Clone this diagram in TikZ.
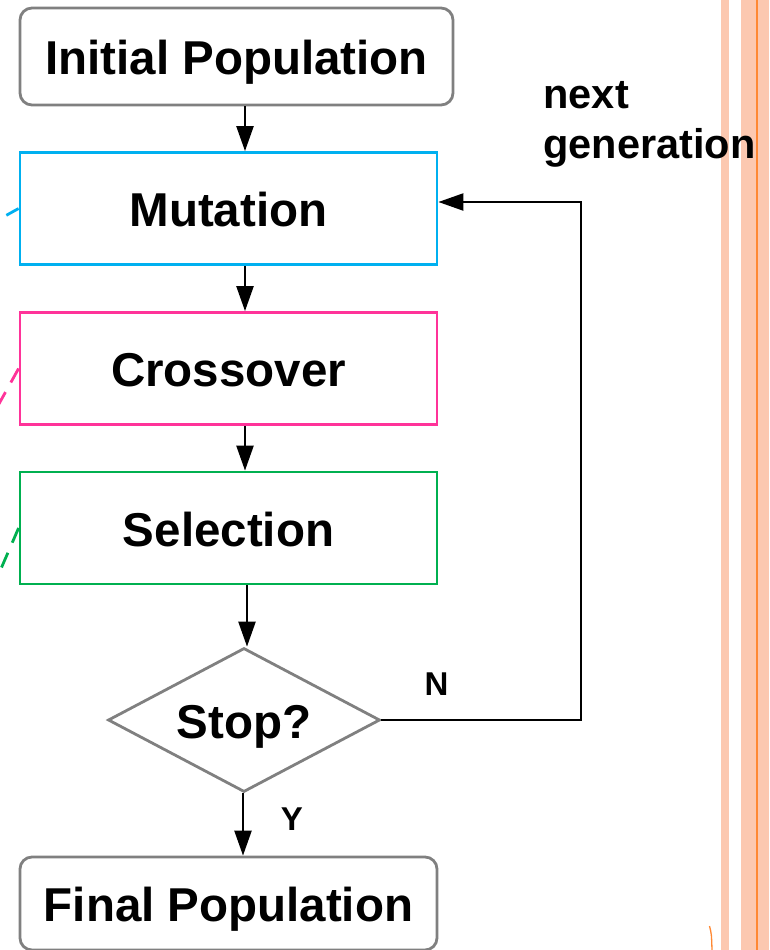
\documentclass[tikz,border=0pt]{standalone}
\usepackage{fontspec}
\setmainfont{Liberation Sans}
\usetikzlibrary{shapes.geometric,arrows.meta}
\definecolor{cblue}{HTML}{00B0F0}
\definecolor{cpink}{HTML}{FF3399}
\definecolor{cgreen}{HTML}{00B050}
\definecolor{cgray}{HTML}{808080}
\definecolor{csalmon}{RGB}{252,200,176}
\definecolor{corange}{RGB}{255,136,51}
\begin{document}
\begin{tikzpicture}[x=1pt,y=-1pt,
  bigfont/.style={font=\fontsize{47.5}{50}\selectfont\bfseries},
  box/.style={draw, line width=2.8pt, minimum width=417pt, minimum height=112pt,
    inner sep=0pt, text height=36pt, text depth=0pt, bigfont},
  rbox/.style={box, draw=cgray, rounded corners=12pt},
  decision/.style={diamond, draw=cgray, line width=2.8pt, aspect=1.89,
    minimum width=272pt, minimum height=144pt, inner sep=0pt,
    text height=36pt, text depth=0pt, bigfont},
  arr/.style={line width=2.3pt, -{Triangle[length=25pt,width=17pt]}},
  lab/.style={anchor=base, font=\fontsize{33}{36}\selectfont\bfseries},
  sidelab/.style={anchor=base west, font=\fontsize{41.5}{45}\selectfont\bfseries},
  leader/.style={line width=2.8pt, dash pattern=on 16pt off 11pt}]
\useasboundingbox (0,0) rectangle (769,950);
% side stripes
\fill[csalmon] (721,0) rectangle (729,950);
\fill[csalmon] (741,0) rectangle (769,950);
\fill[corange] (756,0) rectangle (758,950);
\draw[corange, line width=1.3pt] (709.5,926) .. controls (711.5,934) .. (712,950);
% nodes
\node[rbox, minimum width=433pt, minimum height=97pt] (init) at (236.5,56.5) {Initial Population};
\node[box, draw=cblue] (mut) at (228.5,208.5) {Mutation};
\node[box, draw=cpink] (cross) at (228.5,368.5) {Crossover};
\node[box, draw=cgreen] (sel) at (228.5,528) {Selection};
\node[decision] (stop) at (244,720) {Stop?};
\node[rbox, minimum height=93pt] (final) at (228.5,903.5) {Final Population};
\node[sidelab] (next) at (540,108) {next};
\node[sidelab] (gen) at (540,158) {generation};
\node[lab] (n) at (436.5,695) {N};
\node[lab] (y) at (292,830) {Y};
% helper coordinates
\coordinate (ax) at (245,0);
\coordinate (bx) at (247,0);
\coordinate (cx) at (243,0);
\coordinate (fb) at (581,202);
% connectors
\draw[arr] (init.south -| ax) -- (mut.north -| ax);
\draw[arr] (mut.south -| ax) -- (cross.north -| ax);
\draw[arr] (cross.south -| ax) -- (sel.north -| ax);
\draw[arr] (sel.south -| bx) -- (stop.north -| bx);
\draw[arr] (stop.south -| cx) -- (final.north -| cx);
\draw[arr] (stop.east) -- (stop.east -| fb) -- (fb) -- (fb -| mut.east);
% leaders
\coordinate (lb) at (-40,241);
\coordinate (lp) at (-20,438);
\coordinate (lg) at (-16,608);
\draw[leader, cblue, dash pattern=on 14pt off 10pt] (mut.west) -- (lb);
\draw[leader, cpink] (cross.west) -- (lp);
\draw[leader, cgreen] (sel.west) -- (lg);
\end{tikzpicture}
\end{document}
